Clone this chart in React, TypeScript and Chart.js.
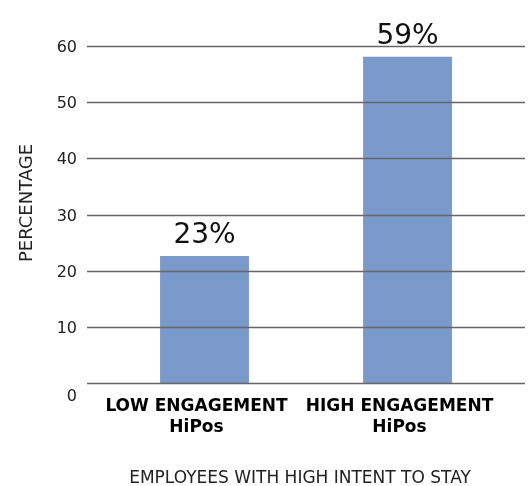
import React, { useEffect, useRef } from 'react';
import { Chart, registerables } from 'chart.js';

Chart.register(...registerables);

const categories: string[][] = [
  ['LOW ENGAGEMENT', 'HiPos'],
  ['HIGH ENGAGEMENT', 'HiPos'],
];
const values: number[] = [22.6, 58.1];
const valueLabels: string[] = ['23%', '59%'];
const yTicks: number[] = [0, 10, 20, 30, 40, 50, 60];
const yTitle = 'PERCENTAGE';
const xTitle = 'EMPLOYEES WITH HIGH INTENT TO STAY';

const FONT = '"DejaVu Sans", sans-serif';

const overlayPlugin = {
  id: 'overlay',
  afterDatasetsDraw(chart: any) {
    const { ctx, chartArea, scales } = chart;
    const y = scales.y;
    const x = scales.x;
    ctx.save();
    // horizontal rules (drawn over bars like the reference)
    ctx.strokeStyle = '#666666';
    ctx.lineWidth = 1.6;
    yTicks.forEach((v) => {
      const py = Math.round(y.getPixelForValue(v)) + 0.5;
      ctx.beginPath();
      ctx.moveTo(chartArea.left - 16, py);
      ctx.lineTo(chartArea.right + 16, py);
      ctx.stroke();
    });
    // y tick labels
    ctx.font = `16px ${FONT}`;
    ctx.fillStyle = '#222222';
    ctx.textAlign = 'right';
    ctx.textBaseline = 'middle';
    yTicks.forEach((v) => {
      const py = y.getPixelForValue(v) + (v === 0 ? 14 : 2);
      ctx.fillText(String(v), chartArea.left - 26, py);
    });
    // x category labels
    ctx.font = `bold 17px ${FONT}`;
    ctx.fillStyle = '#000000';
    ctx.textAlign = 'center';
    categories.forEach((lines, i) => {
      const px = x.getPixelForValue(i) - 8;
      lines.forEach((line, j) => {
        ctx.fillText(line, px, chartArea.bottom + 24 + j * 20.4);
      });
    });
    // value labels above bars
    const meta = chart.getDatasetMeta(0);
    ctx.font = `28px ${FONT}`;
    ctx.fillStyle = '#111111';
    ctx.textAlign = 'center';
    ctx.textBaseline = 'alphabetic';
    meta.data.forEach((bar: any, i: number) => {
      ctx.fillText(valueLabels[i], bar.x, bar.y - 13);
    });
    // axis titles
    ctx.fillStyle = '#222222';
    ctx.textBaseline = 'middle';
    ctx.font = `17px ${FONT}`;
    ctx.fillText(xTitle, 300, 479);
    ctx.translate(27, 203);
    ctx.rotate(-Math.PI / 2);
    ctx.font = `18px ${FONT}`;
    ctx.fillText(yTitle, 0, 0);
    ctx.restore();
  },
};

export default function App() {
  const canvasRef = useRef<HTMLCanvasElement | null>(null);

  useEffect(() => {
    if (!canvasRef.current) return;
    Chart.defaults.font.family = FONT;
    const chart = new Chart(canvasRef.current, {
      type: 'bar',
      data: {
        labels: categories,
        datasets: [
          {
            data: values,
            backgroundColor: '#7a9acc',
            borderWidth: 0,
            categoryPercentage: 1,
            barPercentage: 0.438,
          },
        ],
      },
      options: {
        responsive: false,
        animation: false,
        devicePixelRatio: 1,
        layout: { padding: { top: 46, right: 22, bottom: 103, left: 103 } },
        plugins: {
          legend: { display: false },
          tooltip: { enabled: false },
          title: { display: false },
        },
        scales: {
          x: {
            display: false,
          },
          y: {
            display: false,
            min: 0,
            max: 60,
          },
        },
      },
      plugins: [overlayPlugin],
    });
    return () => chart.destroy();
  }, []);

  return (
    <div style={{ position: 'fixed', left: 0, top: 0, width: 531, height: 486, background: '#ffffff' }}>
      <canvas ref={canvasRef} width={531} height={486} style={{ display: 'block' }} />
    </div>
  );
}
